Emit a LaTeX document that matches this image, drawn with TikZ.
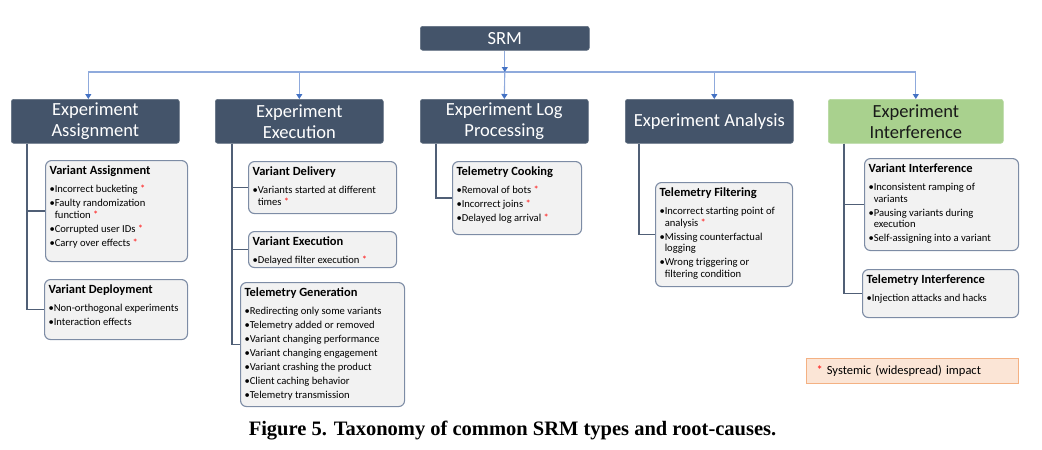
\documentclass[tikz,border=0pt]{standalone}
\usepackage{fontspec}
\setmainfont{Carlito}
\newfontfamily\capfont{Liberation Serif}
\usetikzlibrary{arrows.meta,calc}
\definecolor{hdr}{RGB}{68,84,106}
\definecolor{grn}{RGB}{169,209,142}
\definecolor{cfill}{RGB}{242,242,242}
\definecolor{cline}{RGB}{125,140,165}
\definecolor{connc}{RGB}{80,95,118}
\definecolor{busc}{RGB}{143,170,220}
\definecolor{tipc}{RGB}{68,114,196}
\definecolor{lgfill}{RGB}{251,229,214}
\definecolor{lgline}{RGB}{244,177,131}
\definecolor{astc}{RGB}{255,20,20}
\newlength\bulw \setlength\bulw{5.2pt}
\newcommand\ttl[1]{\rule{0pt}{14pt}{\fontsize{12.5}{14}\selectfont\bfseries #1}\par\parskip=2.5pt\vspace{4pt}}
\newcommand\itm[1]{\par\hangindent=\bulw\hangafter=1\noindent\makebox[\bulw][l]{•}#1}
\newcommand\nl{\hfil\break}
\newcommand\redast{\textcolor{astc}{*}}
\newcommand\cbody[3]{\parbox[c][#2pt][t]{\dimexpr#1pt-8pt\relax}{\fontsize{10.6}{11.5}\selectfont\raggedright\parindent=0pt #3}}
\tikzset{
  hbox/.style={fill=hdr, draw=hdr!85!white, line width=0.6pt, text=white, rounded corners=2.5pt, minimum width=168, minimum height=44,
    inner sep=0pt, align=center, font=\fontsize{18.5}{21}\selectfont, anchor=north west},
  child/.style={draw=cline, fill=cfill, line width=1.1pt, rounded corners=6pt, inner xsep=4pt,
    inner ysep=0pt, anchor=north west},
  blueline/.style={draw=busc, line width=1.1pt},
  arr/.style={-{Triangle[width=6pt,length=5pt,color=tipc]}},
  connl/.style={draw=connc, line width=1.3pt},
}
\begin{document}
\begin{tikzpicture}[x=1pt,y=-1pt]
\useasboundingbox (0,0) rectangle (1042,450);
% top
\node[hbox, minimum width=169, minimum height=24] (srm) at (420,26) {SRM};
\node[hbox] (ea) at (11,99) {Experiment\\Assignment};
\node[hbox] (ee) at (215,99) {Experiment\\Execution};
\node[hbox] (elp) at (420,99) {Experiment Log\\Processing};
\node[hbox] (ean) at (625,99) {Experiment Analysis};
\node[hbox, fill=grn, draw=grn!85!white, text={rgb,255:red,25;green,25;blue,25}, minimum width=175] (ei) at (828,99) {Experiment\\Interference};
\coordinate (bus) at (505,72);
\coordinate (eaT) at ([xshift=-7pt]ea.north);
\coordinate (eanT) at ([xshift=5pt]ean.north);
% bus connectors
\draw[blueline] (eaT |- bus) -- (ei.north |- bus);
\draw[blueline, arr] (srm.south) -- (srm.south |- bus);
\draw[blueline, arr] (srm.south |- bus) -- (elp.north);
\draw[blueline, arr] (eaT |- bus) -- (eaT);
\draw[blueline, arr] (ee.north |- bus) -- (ee.north);
\draw[blueline, arr] (eanT |- bus) -- (eanT);
\draw[blueline, arr] (ei.north |- bus) -- (ei.north);
% children
\node[child] (va) at (45,160) {\cbody{142}{101}{\ttl{Variant Assignment}
  \itm{Incorrect bucketing \redast}
  \itm{Faulty randomization\nl function \redast}
  \itm{Corrupted user IDs \redast}
  \itm{Carry over effects \redast}}};
\node[child] (vd) at (44,279) {\cbody{143}{60}{\ttl{Variant Deployment}
  \itm{Non-orthogonal experiments}
  \itm{Interaction effects}}};
\node[child] (vdel) at (248,161) {\cbody{148}{52}{\ttl{Variant Delivery}
  \itm{Variants started at different\nl times \redast}}};
\node[child] (vexe) at (248,231) {\cbody{148}{36}{\ttl{Variant Execution}
  \itm{Delayed filter execution \redast}}};
\node[child] (tg) at (240,282) {\cbody{164}{124}{\ttl{Telemetry Generation}
  \itm{Redirecting only some variants}
  \itm{Telemetry added or removed}
  \itm{Variant changing performance}
  \itm{Variant changing engagement}
  \itm{Variant crashing the product}
  \itm{Client caching behavior}
  \itm{Telemetry transmission}}};
\node[child] (tc) at (452,161) {\cbody{129}{73}{\ttl{Telemetry Cooking}
  \itm{Removal of bots \redast}
  \itm{Incorrect joins \redast}
  \itm{Delayed log arrival \redast}}};
\node[child] (tf) at (655,182) {\cbody{137}{104}{\ttl{Telemetry Filtering}
  \itm{Incorrect starting point of\nl analysis \redast}
  \itm{Missing counterfactual\nl logging}
  \itm{Wrong triggering or\nl filtering condition}}};
\node[child] (vi) at (864,158) {\cbody{154}{92}{\ttl{Variant Interference}
  \itm{Inconsistent ramping of\nl variants}
  \itm{Pausing variants during\nl execution}
  \itm{Self-assigning into a variant}}};
\node[child] (ti) at (862,269) {\cbody{156}{48}{\ttl{Telemetry Interference}
  \itm{Injection attacks and hacks}}};
% branch connectors
\draw[connl] ([xshift=16pt]ea.south west) |- (va.west);
\draw[connl] ([xshift=16pt]ea.south west) |- (vd.west);
\draw[connl] ([xshift=17pt]ee.south west) |- (vdel.west);
\draw[connl] ([xshift=17pt]ee.south west) |- (vexe.west);
\draw[connl] ([xshift=17pt]ee.south west) |- (tg.west);
\draw[connl] ([xshift=16pt]elp.south west) |- (tc.west);
\draw[connl] ([xshift=14pt]ean.south west) |- (tf.west);
\draw[connl] ([xshift=16pt]ei.south west) |- (vi.west);
\draw[connl] ([xshift=16pt]ei.south west) |- (ti.west);
% legend
\node[draw=lgline, fill=lgfill, line width=1pt, anchor=north west, minimum width=212, minimum height=25,
  inner xsep=10pt, inner ysep=0pt, text width=192, align=left, font=\fontsize{12.5}{14}\selectfont] (lg) at (806,358)
  {\redast\ Systemic (widespread) impact};
% caption
\node[anchor=base, font={\capfont\fontsize{20.5}{24}\selectfont\bfseries}] (cap) at (512.5,435)
  {Figure 5. Taxonomy of common SRM types and root-causes.};
\end{tikzpicture}
\end{document}
